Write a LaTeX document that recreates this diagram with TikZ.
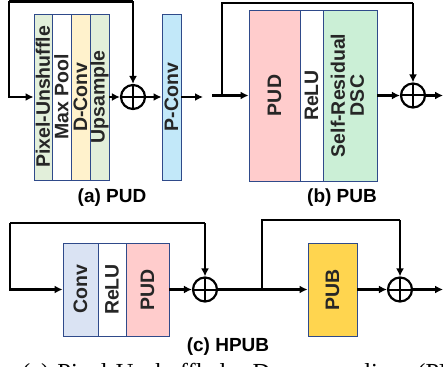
\documentclass[tikz,border=0pt]{standalone}
\usepackage{fontspec}
\setmainfont{Liberation Sans}
\newfontfamily\serifcap{Liberation Serif}
\usepackage{graphicx}
\usetikzlibrary{shapes, arrows.meta, positioning}
\definecolor{edgeblue}{HTML}{2F4A8A}
\definecolor{pxgreen}{HTML}{E2EFDA}
\definecolor{dcorange}{HTML}{FFF2CC}
\definecolor{pcblue}{HTML}{C2E8F9}
\definecolor{pudpink}{HTML}{FFCCCC}
\definecolor{dscgreen}{HTML}{CBEFD6}
\definecolor{convblue}{HTML}{DAE3F3}
\definecolor{pubgold}{HTML}{FFD54F}
\tikzstyle{blk} = [rectangle, draw=edgeblue, line width=0.9pt, inner sep=0pt, text=black!85, font=\bfseries\fontsize{19.5}{22}\selectfont]
\tikzstyle{sumop} = [circle, draw, line width=2.2pt, minimum size=24pt, inner sep=0pt,
  path picture={\draw[line width=2pt] (path picture bounding box.north) -- (path picture bounding box.south)
  (path picture bounding box.west) -- (path picture bounding box.east);}]
\tikzstyle{line} = [draw, line width=2.4pt]
\tikzstyle{arr} = [draw, line width=2.4pt, -{Latex[length=8pt,width=8pt]}]
\tikzstyle{subcap} = [font=\bfseries\fontsize{19}{22}\selectfont]

\begin{document}
\begin{tikzpicture}[x=1pt, y=-1pt]
			\useasboundingbox (0,0) rectangle (443,366);
			\clip (0,0) rectangle (443,366);

			% (a) PUD
			\node [blk, fill=pxgreen, minimum width=18pt, minimum height=166pt] (pu) at (43,97) {\rotatebox{90}{Pixel-Unshuffle}};
			\node [blk, fill=white, minimum width=19pt, minimum height=166pt] (mp) at (61.5,97) {\rotatebox{90}{Max Pool}};
			\node [blk, fill=dcorange, minimum width=19pt, minimum height=166pt] (dc) at (80.5,97) {\rotatebox{90}{D-Conv}};
			\node [blk, fill=pxgreen, minimum width=19pt, minimum height=166pt] (up) at (99.5,97) {\rotatebox{90}{Upsample}};
			\node [sumop] (addA) at (133,97) {};
			\node [blk, fill=pcblue, minimum width=19pt, minimum height=166pt] (pc) at (171.5,97) {\rotatebox{90}{P-Conv}};
			\coordinate (outA) at (203,97);
			\coordinate (lpA1) at (9,1.5);
			\coordinate (lpA2) at (133,1.5);
			\node [subcap] (capA) at (112,198) {(a) PUD};

			\path [arr] (lpA2) -- (addA.north);
			\path [line] (lpA1) -- (lpA2);
			\path [arr] (lpA1) |- (pu.west);
			\path [arr] (up.east) -- (addA.west);
			\path [arr] (addA.east) -- (pc.west);
			\path [arr] (pc.east) -- (outA);

			% (b) PUB
			\coordinate (inB) at (212,95.5);
			\node [blk, fill=pudpink, minimum width=51pt, minimum height=171pt] (pudB) at (274.5,95.5) {\rotatebox{90}{PUD}};
			\node [blk, fill=white, minimum width=23pt, minimum height=171pt] (reluB) at (311.5,95.5) {\rotatebox{90}{ReLU}};
			\node [blk, fill=dscgreen, minimum width=54pt, minimum height=171pt] (dsc) at (350,95.5) {\rotatebox{90}{\begin{tabular}{@{}c@{}}Self-Residual\\[-3pt]DSC\end{tabular}}};
			\node [sumop] (addB) at (413,95.5) {};
			\coordinate (outB) at (443,95.5);
			\coordinate (lpB1) at (222,3);
			\coordinate (lpB2) at (413,3);
			\node [subcap] (capB) at (342,198) {(b) PUB};

			\path [arr] (inB) -- (pudB.west);
			\path [line] (lpB1 |- inB) -- (lpB1) -- (lpB2);
			\path [arr] (lpB2) -- (addB.north);
			\path [arr] (dsc.east) -- (addB.west);
			\path [arr] (addB.east) -- (outB);

			% (c) HPUB
			\node [blk, fill=convblue, minimum width=35pt, minimum height=93pt] (conv) at (80.5,289.5) {\rotatebox{90}{Conv}};
			\node [blk, fill=white, minimum width=28pt, minimum height=93pt] (reluC) at (112,289.5) {\rotatebox{90}{ReLU}};
			\node [blk, fill=pudpink, minimum width=43pt, minimum height=93pt] (pudC) at (147.5,289.5) {\rotatebox{90}{PUD}};
			\node [sumop] (addC) at (205,289.5) {};
			\node [blk, fill=pubgold, minimum width=49pt, minimum height=93pt] (pub) at (332.5,289.5) {\rotatebox{90}{PUB}};
			\node [sumop] (addD) at (400,289.5) {};
			\coordinate (outC) at (443,289.5);
			\coordinate (lpC1) at (10,223);
			\coordinate (lpC2) at (205,223);
			\coordinate (brC) at (262,289.5);
			\coordinate (lpD1) at (262,220);
			\coordinate (lpD2) at (400,220);
			\node [subcap] (capC) at (228,347) {(c) HPUB};

			\path [line] (lpC2) -- (lpC1);
			\path [arr] (lpC1) |- (conv.west);
			\path [arr] (lpC2) -- (addC.north);
			\path [arr] (pudC.east) -- (addC.west);
			\path [line] (addC.east) -- (brC);
			\path [arr] (brC) -- (pub.west);
			\path [line] (brC) -- (lpD1) -- (lpD2);
			\path [arr] (lpD2) -- (addD.north);
			\path [arr] (pub.east) -- (addD.west);
			\path [arr] (addD.east) -- (outC);

			% caption cut off at the bottom
			\node [anchor=base west, inner sep=0pt, font=\serifcap\fontsize{24.5}{28}\selectfont] (figcap) at (22,380) {(a)\hspace{8pt}Pixel-Unshuffled\hspace{27pt}Downsampling\hspace{15pt}(PUD)};
		\end{tikzpicture}
\end{document}
